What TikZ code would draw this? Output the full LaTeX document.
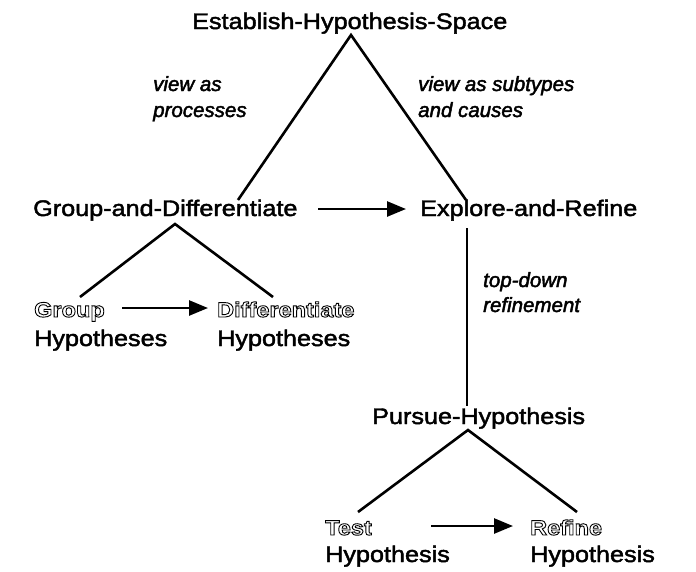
\documentclass[tikz,border=0pt]{standalone}
\usepackage{fontspec}
\setmainfont{Liberation Sans}[FakeStretch=1.12]
\newfontfamily\itsans{Liberation Sans}
\usetikzlibrary{arrows.meta}
% heavier fill+stroke rendering for the scanned-looking labels
\newcommand{\thk}[1]{\special{pdf:literal direct 2 Tr 0.45 w}#1\special{pdf:literal direct 0 Tr}}
% hollow (outlined) lettering
\newcommand{\outltext}[1]{{\bfseries\fontsize{21}{24}\selectfont\special{pdf:literal direct 1 Tr 0.9 w}#1\special{pdf:literal direct 0 Tr}}}
\begin{document}
\begin{tikzpicture}[x=1pt,y=-1pt,
  lbl/.style={inner sep=0pt, anchor=base west, font=\fontsize{22.5}{26}\selectfont},
  ilbl/.style={inner sep=0pt, anchor=base west, font=\itsans\fontsize{20.5}{24}\selectfont\itshape},
  edge/.style={line width=2.6pt},
  arr/.style={line width=2.6pt, -{Triangle[length=19pt,width=15pt]}}]
\useasboundingbox[fill=white] (0,0) rectangle (696,571);
% nodes
\node[lbl] (ehs) at (192,29) {\thk{Establish-Hypothesis-Space}};
\node[ilbl] (va1) at (153,91) {\thk{view as}};
\node[ilbl] (va2) at (153,117) {\thk{processes}};
\node[ilbl] (vs1) at (418,91) {\thk{view as subtypes}};
\node[ilbl] (vs2) at (418,117) {\thk{and causes}};
\node[lbl] (gd) at (33,216) {\thk{Group-and-Differentiate}};
\node[lbl] (er) at (420,216) {\thk{Explore-and-Refine}};
\node[ilbl] (td1) at (483,287) {\thk{top-down}};
\node[ilbl] (td2) at (483,312) {\thk{refinement}};
\node[lbl] (g1) at (34,317) {\outltext{Group}};
\node[lbl] (g2) at (34,346) {\thk{Hypotheses}};
\node[lbl] (d1) at (217,317) {\outltext{Differentiate}};
\node[lbl] (d2) at (217,346) {\thk{Hypotheses}};
\node[lbl] (ph) at (372,424) {\thk{Pursue-Hypothesis}};
\node[lbl] (t1) at (325,535) {\outltext{Test}};
\node[lbl] (t2) at (325,562) {\thk{Hypothesis}};
\node[lbl] (r1) at (530,535) {\outltext{Refine}};
\node[lbl] (r2) at (530,562) {\thk{Hypothesis}};
% connector end points
\coordinate (ehsA) at (351,35);
\coordinate (gdT) at (238,200);
\coordinate (erT) at (466,200);
\coordinate (gdA) at (175,224);
\coordinate (gL) at (80,297);
\coordinate (dR) at (273,297);
\coordinate (erB) at (467,228);
\coordinate (phT) at (467,406);
\coordinate (phA) at (468,430);
\coordinate (tL) at (358,512);
\coordinate (rR) at (577,512);
\coordinate (gdE) at (318,209);
\coordinate (erW) at (406,209);
\coordinate (gE) at (122,308);
\coordinate (dW) at (208,308);
\coordinate (tE) at (431,526);
\coordinate (rW) at (513,526);
% connectors
\draw[edge] (gdT) -- (ehsA) -- (erT);
\draw[edge] (gL) -- (gdA) -- (dR);
\draw[edge] (erB) -- (phT);
\draw[edge] (tL) -- (phA) -- (rR);
\draw[arr] (gdE) -- (erW);
\draw[arr] (gE) -- (dW);
\draw[arr] (tE) -- (rW);
\end{tikzpicture}
\end{document}
